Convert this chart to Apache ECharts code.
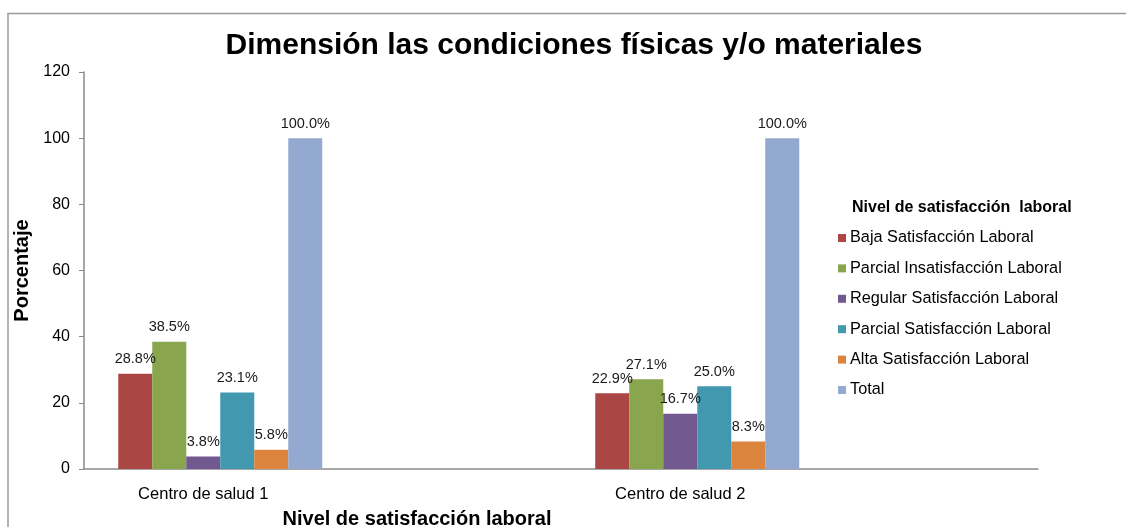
<!DOCTYPE html>
<html>
<head>
<meta charset="utf-8">
<title>Dimensión las condiciones físicas y/o materiales</title>
<script src="https://cdn.jsdelivr.net/npm/echarts@6/dist/echarts.min.js"></script>
<style>
    html, body { margin: 0; padding: 0; background: #fff; }
    #chart { width: 1126px; height: 527px; }
</style>
</head>
<body>
<div id="chart"></div>
<script>
    // categorias del eje x (las vacias dan el espacio entre grupos, como en el original de Excel)
    const categorias = ["Centro de salud 1", "", "Centro de salud 2", ""];
    const nombresSeries = [
        "Baja Satisfacción Laboral",
        "Parcial Insatisfacción Laboral",
        "Regular Satisfacción Laboral",
        "Parcial Satisfacción Laboral",
        "Alta Satisfacción Laboral",
        "Total",
    ];
    const baja = [28.8, null, 22.9, null];
    const parcialInsat = [38.5, null, 27.1, null];
    const regular = [3.8, null, 16.7, null];
    const parcialSat = [23.1, null, 25.0, null];
    const alta = [5.8, null, 8.3, null];
    const total = [100.0, null, 100.0, null];
    const vacia = [null, null, null, null]; // hueco a la izquierda de cada grupo
    const colores = ["#AA4643", "#89A54E", "#71588F", "#4198AF", "#DB843D", "#93A9CF"];

    const fuente = "Liberation Sans, Arial, sans-serif";
    const myChart = echarts.init(document.getElementById("chart"));

    let series = [
        {
            type: "bar",
            name: "_hueco",
            data: vacia,
            barWidth: 34,
            barGap: "0%",
            silent: true,
        },
    ];
    [baja, parcialInsat, regular, parcialSat, alta, total].forEach((datos, i) => {
        series.push({
            type: "bar",
            name: nombresSeries[i],
            data: datos,
            barWidth: 34,
            barGap: "0%",
            itemStyle: { color: colores[i] },
            label: {
                show: true,
                position: "top",
                distance: 7,
                fontFamily: fuente,
                fontSize: 14.5,
                color: "#1a1a1a",
                formatter: (p) => (p.value == null ? "" : p.value.toFixed(1) + "%"),
            },
        });
    });

    const options = {
        animation: false,
        textStyle: { fontFamily: fuente },
        title: [
            {
                text: "Dimensión las condiciones físicas y/o materiales",
                left: 574,
                top: 31,
                padding: 0,
                textAlign: "center",
                textStyle: { fontFamily: fuente, fontSize: 30, fontWeight: "bold", color: "#000" },
            },
            {
                text: "Nivel de satisfacción laboral",
                left: 417,
                top: 509,
                padding: 0,
                textAlign: "center",
                textStyle: { fontFamily: fuente, fontSize: 20, fontWeight: "bold", color: "#000" },
            },
            {
                text: "Nivel de satisfacción  laboral",
                left: 852,
                top: 200,
                padding: 0,
                textStyle: { fontFamily: fuente, fontSize: 16, fontWeight: "bold", color: "#000" },
            },
        ],
        legend: {
            orient: "vertical",
            left: 838,
            top: 230,
            padding: 0,
            itemWidth: 8,
            itemHeight: 8,
            itemGap: 14.4,
            icon: "rect",
            data: nombresSeries,
            textStyle: { fontFamily: fuente, fontSize: 16.3, color: "#000", padding: [0, 0, 0, -1] },
        },
        grid: {
            left: 84,
            width: 954,
            top: 72,
            height: 397,
        },
        xAxis: {
            type: "category",
            data: categorias,
            axisLine: { lineStyle: { color: "#8a8a8a", width: 1.5 } },
            axisTick: { show: false },
            axisLabel: { fontFamily: fuente, fontSize: 16.5, color: "#000", margin: 17, interval: 0 },
        },
        yAxis: {
            type: "value",
            min: 0,
            max: 120,
            interval: 20,
            name: "Porcentaje",
            nameLocation: "middle",
            nameGap: 50,
            nameTextStyle: { fontFamily: fuente, fontSize: 20, fontWeight: "bold", color: "#000" },
            axisLine: { show: true, lineStyle: { color: "#8a8a8a", width: 1.5 } },
            axisTick: { show: true, length: 5, lineStyle: { color: "#8a8a8a" } },
            splitLine: { show: false },
            axisLabel: { fontFamily: fuente, fontSize: 16, color: "#000", margin: 14 },
        },
        graphic: [
            {
                type: "polyline",
                silent: true,
                shape: { points: [[8, 527], [8, 13.5], [1126, 13.5]] },
                style: { fill: null, stroke: "#9a9a9a", lineWidth: 1.5 },
            },
        ],
        series: series,
    };
    myChart.setOption(options);
</script>
</body>
</html>
